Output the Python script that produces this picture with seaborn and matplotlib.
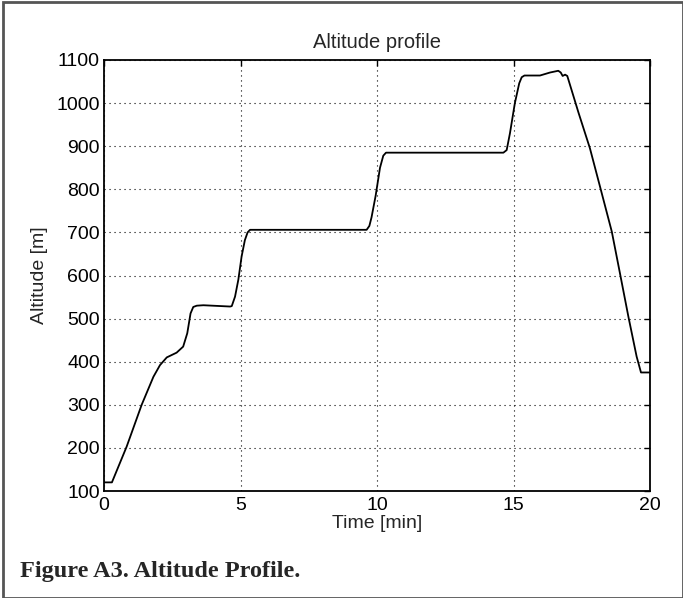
# Altitude profile (MATLAB-style figure with caption)

import pandas as pd
import matplotlib.pyplot as plt
import seaborn as sns
from matplotlib.patches import Rectangle

# Values
time_min = [0.0, 0.29, 0.83, 1.38, 1.81, 2.05, 2.30, 2.66, 2.90, 3.05, 3.17,
            3.27, 3.40, 3.64, 4.62, 4.68, 4.80, 4.92, 5.04, 5.16, 5.26, 5.35,
            9.62, 9.72, 9.80, 9.95, 10.11, 10.23, 10.33,
            14.63, 14.75, 14.87, 15.05, 15.21, 15.30, 15.40, 15.97, 16.34,
            16.64, 16.73, 16.80, 16.89, 16.97, 17.38, 17.80, 18.17,
            18.60, 18.90, 19.21, 19.51, 19.67, 20.0]
altitude_m = [120, 120, 203, 300, 365, 392, 410, 421, 435, 466, 512,
              527, 530, 531, 528, 529, 551, 590, 644, 682, 700, 706,
              706, 715, 735, 785, 850, 878, 885,
              885, 891, 930, 1000, 1046, 1060, 1064, 1064, 1071,
              1075, 1071, 1063, 1066, 1063, 978, 895, 806,
              702, 605, 504, 412, 375, 375]

x_ticks = [0, 5, 10, 15, 20]
y_ticks = list(range(100, 1101, 100))

df = pd.DataFrame({'Time': time_min, 'Altitude': altitude_m})

sns.set_style('white')
plt.rcParams['font.family'] = ['Liberation Sans', 'DejaVu Sans']

W, H = 683, 598
fig = plt.figure(figsize=(W / 100, H / 100), dpi=100)
ax = fig.add_axes([104 / W, 1 - 491 / H, 546 / W, 431 / H])

sns.lineplot(data=df, x='Time', y='Altitude', ax=ax,
             color='black', linewidth=1.3, sort=False)

ax.set_xlim(0, 20)
ax.set_ylim(100, 1100)
ax.set_xticks(x_ticks)
ax.set_yticks(y_ticks)
ax.grid(True, color='black', linestyle=(0, (1, 3.5)), linewidth=0.8)
ax.tick_params(direction='in', length=4, width=1, top=True, right=True,
               labelsize=14, colors='black', pad=3)
ax.tick_params(axis='x', pad=4)
for s in ax.spines.values():
    s.set_linewidth(1.3)
    s.set_color('black')

ax.set_title('Altitude profile', fontsize=14.5, pad=9)
ax.set_xlabel('Time [min]', fontsize=14, labelpad=1)
ax.set_ylabel('Altitude [m]', fontsize=14, labelpad=6)

fig.text(20 / W, 1 - 571 / H, 'Figure A3. Altitude Profile.',
         family=['Liberation Serif', 'DejaVu Serif'], fontweight='bold',
         fontsize=17.5, va='center', ha='left')

# grey frame around the whole figure
fig.patches.append(Rectangle((3 / W, 0), 1 - 3 / W, 1 - 2 / H,
                             transform=fig.transFigure, fill=False,
                             edgecolor='#555555', linewidth=2))

fig.savefig('out.png', dpi=100)
